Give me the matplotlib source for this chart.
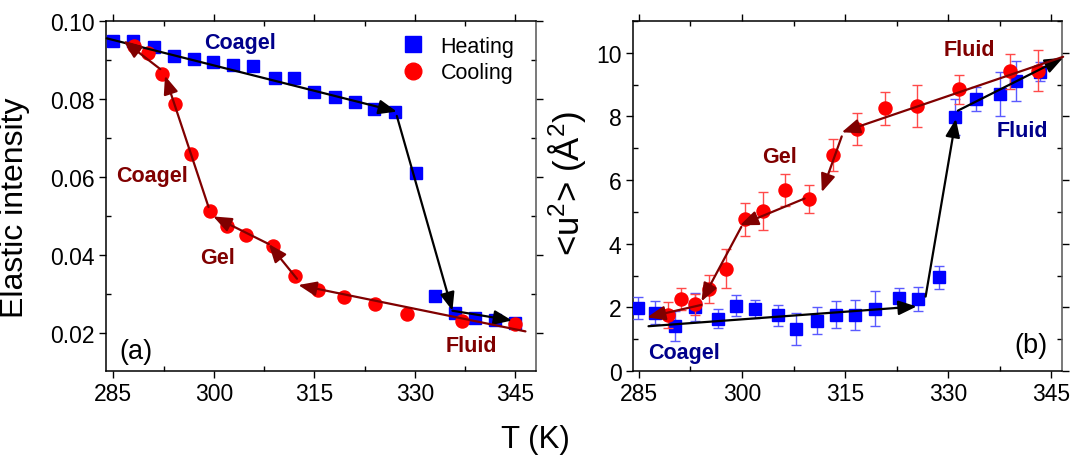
import matplotlib
matplotlib.use("Agg")
import matplotlib.pyplot as plt
from matplotlib.ticker import MultipleLocator, FormatStrFormatter
from matplotlib.lines import Line2D

plt.rcParams['font.family'] = ['Liberation Sans', 'DejaVu Sans']
plt.rcParams['mathtext.default'] = 'regular'

# ---- (a) elastic intensity ----
heat_T_a = [285.0, 287.9, 291.0, 294.0, 297.0, 299.9, 302.9, 305.9, 309.1, 311.9, 315.0,
            318.0, 321.0, 323.9, 327.0, 330.1, 333.0, 336.0, 339.0, 341.9, 344.9]
heat_I_a = [0.0949, 0.0949, 0.0934, 0.0910, 0.0902, 0.0895, 0.0887, 0.0883, 0.0853, 0.0854, 0.0818,
            0.0804, 0.0791, 0.0774, 0.0765, 0.0610, 0.0293, 0.0250, 0.0237, 0.0231, 0.0224]
cool_T_a = [288.1, 290.2, 292.2, 294.2, 296.6, 299.4, 302.0, 304.8, 308.8, 312.1, 315.6,
            319.4, 324.0, 328.8, 337.0, 344.9]
cool_I_a = [0.0936, 0.0917, 0.0863, 0.0786, 0.0657, 0.0511, 0.0474, 0.0451, 0.0423, 0.0345, 0.0310,
            0.0292, 0.0273, 0.0248, 0.0229, 0.0222]

# guide arrows (start -> end) for heating and cooling paths
guide_heat_a = [((284.0, 0.0955), (327.3, 0.0767)),
                ((327.3, 0.0756), (335.6, 0.0256)),
                ((335.6, 0.0256), (344.5, 0.0231))]
guide_cool_a = [((346.5, 0.0203), (312.6, 0.0322)),
                ((312.4, 0.0338), (308.2, 0.0427)),
                ((308.2, 0.0427), (299.9, 0.0498)),
                ((299.2, 0.0522), (292.7, 0.0859)),
                ((292.0, 0.0876), (286.5, 0.0949))]

# ---- (b) mean square displacement ----
heat_T_b = [284.9, 287.3, 290.2, 293.2, 296.5, 299.1, 301.9, 305.2, 307.8, 310.9, 313.6,
            316.4, 319.4, 322.8, 325.6, 328.6, 331.0, 334.1, 337.5, 339.9, 343.3]
heat_u_b = [1.98, 1.84, 1.41, 2.00, 1.64, 2.06, 1.96, 1.75, 1.32, 1.58, 1.77,
            1.75, 1.96, 2.31, 2.27, 2.94, 7.97, 8.54, 8.70, 9.11, 9.40]
heat_err_b = [0.34, 0.37, 0.47, 0.44, 0.30, 0.33, 0.28, 0.33, 0.49, 0.42, 0.43,
              0.47, 0.55, 0.31, 0.37, 0.36, 0.57, 0.37, 0.69, 0.64, 0.30]
cool_T_b = [289.3, 291.1, 293.2, 295.2, 297.6, 300.4, 303.1, 306.3, 309.8, 313.2, 316.7,
            320.8, 325.4, 331.6, 339.0, 343.0]
cool_u_b = [1.75, 2.27, 2.10, 2.58, 3.21, 4.77, 5.03, 5.68, 5.42, 6.79, 7.60,
            8.25, 8.33, 8.85, 9.41, 9.43]
cool_err_b = [0.41, 0.35, 0.33, 0.43, 0.61, 0.52, 0.61, 0.51, 0.44, 0.51, 0.50,
              0.53, 0.67, 0.45, 0.55, 0.64]

guide_heat_b = [((286.4, 1.41), (325.4, 2.03)),
                ((326.7, 2.34), (331.1, 7.92)),
                ((331.4, 8.18), (346.7, 9.84))]
guide_cool_b = [((346.7, 9.87), (314.5, 7.50)),
                ((314.5, 7.37), (311.6, 5.62)),
                ((309.1, 5.42), (299.7, 4.58)),
                ((299.9, 4.53), (294.1, 2.19)),
                ((294.1, 2.08), (286.2, 1.69))]

BLUE = '#0000ff'
RED = '#ff0000'
NAVY = '#00008b'
MAROON = '#800000'

fig = plt.figure(figsize=(10.7, 4.64), dpi=100)
ax1 = fig.add_axes([0.0991, 0.198, 0.402, 0.755])
ax2 = fig.add_axes([0.5913, 0.198, 0.401, 0.755])


def draw_guides(ax, segs, color):
    for (x0, y0), (x1, y1) in segs:
        ax.annotate('', xy=(x1, y1), xytext=(x0, y0), annotation_clip=False,
                    arrowprops=dict(arrowstyle='-|>,head_length=0.55,head_width=0.22',
                                    mutation_scale=20, lw=1.6, color=color,
                                    shrinkA=0, shrinkB=0),
                    zorder=6)


def style_axes(ax, xlim, ymaj, ymin):
    ax.set_xlim(*xlim)
    ax.xaxis.set_major_locator(MultipleLocator(15))
    ax.xaxis.set_minor_locator(MultipleLocator(7.5))
    ax.yaxis.set_major_locator(MultipleLocator(ymaj))
    ax.yaxis.set_minor_locator(MultipleLocator(ymin))
    ax.tick_params(which='major', direction='out', length=5, width=1.0,
                   top=True, right=True, labelsize=16.5, pad=3)
    ax.tick_params(which='minor', direction='in', length=3.5, width=1.0,
                   top=True, right=True)
    for s in ax.spines.values():
        s.set_linewidth(1.1)
    ax.spines['right'].set_color('#555555')


# panel (a)
ax1.plot(heat_T_a, heat_I_a, 's', color=BLUE, ms=8.6, mec=BLUE, zorder=3)
ax1.plot(cool_T_a, cool_I_a, 'o', color=RED, ms=9.4, mec=RED, zorder=4)
draw_guides(ax1, guide_heat_a, 'black')
draw_guides(ax1, guide_cool_a, MAROON)
ax1.set_ylim(0.0101, 0.10)
style_axes(ax1, (283.9, 348.1), 0.02, 0.01)
ax1.yaxis.set_major_formatter(FormatStrFormatter('%.2f'))
ax1.set_ylabel('Elastic intensity', fontsize=23)
ax1.yaxis.set_label_coords(-0.177, 0.47)

lbl = dict(fontsize=15.5, fontweight='bold', ha='center', va='center', zorder=7)
ax1.text(303.9, 0.0944, 'Coagel', color=NAVY, **lbl)
ax1.text(290.7, 0.0602, 'Coagel', color=MAROON, **lbl)
ax1.text(300.6, 0.0393, 'Gel', color=MAROON, **lbl)
ax1.text(338.5, 0.0166, 'Fluid', color=MAROON, **lbl)
ax1.text(288.4, 0.0153, '(a)', fontsize=19.5, ha='center', va='center')

handles = [Line2D([], [], ls='none', marker='s', color=BLUE, ms=11),
           Line2D([], [], ls='none', marker='o', color=RED, ms=12)]
ax1.legend(handles, ['Heating', 'Cooling'], loc='upper left',
           bbox_to_anchor=(0.689, 0.957), borderaxespad=0, borderpad=0,
           handlelength=1.0, handletextpad=0.78, labelspacing=0.24,
           frameon=False, fontsize=15.5)

# panel (b)
ax2.errorbar(heat_T_b, heat_u_b, yerr=heat_err_b, fmt='s', color=BLUE, ms=8.6,
             ecolor='#5a5aff', elinewidth=1.0, capsize=3.5, capthick=1.0, zorder=3)
ax2.errorbar(cool_T_b, cool_u_b, yerr=cool_err_b, fmt='o', color=RED, ms=9.4,
             ecolor='#ff4a4a', elinewidth=1.0, capsize=3.5, capthick=1.0, zorder=4)
draw_guides(ax2, guide_heat_b, 'black')
draw_guides(ax2, guide_cool_b, MAROON)
ax2.set_ylim(0, 11)
style_axes(ax2, (284.1, 346.5), 2, 1)
ax2.set_ylabel(r'<u$^{2}$> (Å$^{2}$)', fontsize=25)
ax2.yaxis.set_label_coords(-0.104, 0.54)

ax2.text(333.1, 10.1, 'Fluid', color=MAROON, **lbl)
ax2.text(305.4, 6.73, 'Gel', color=MAROON, **lbl)
ax2.text(340.7, 7.57, 'Fluid', color=NAVY, **lbl)
ax2.text(291.6, 0.57, 'Coagel', color=NAVY, **lbl)
ax2.text(342.0, 0.82, '(b)', fontsize=19.5, ha='center', va='center')

fig.text(0.5, 0.052, 'T (K)', fontsize=22.5, ha='center', va='center')

fig.savefig('out.png', dpi=100)
